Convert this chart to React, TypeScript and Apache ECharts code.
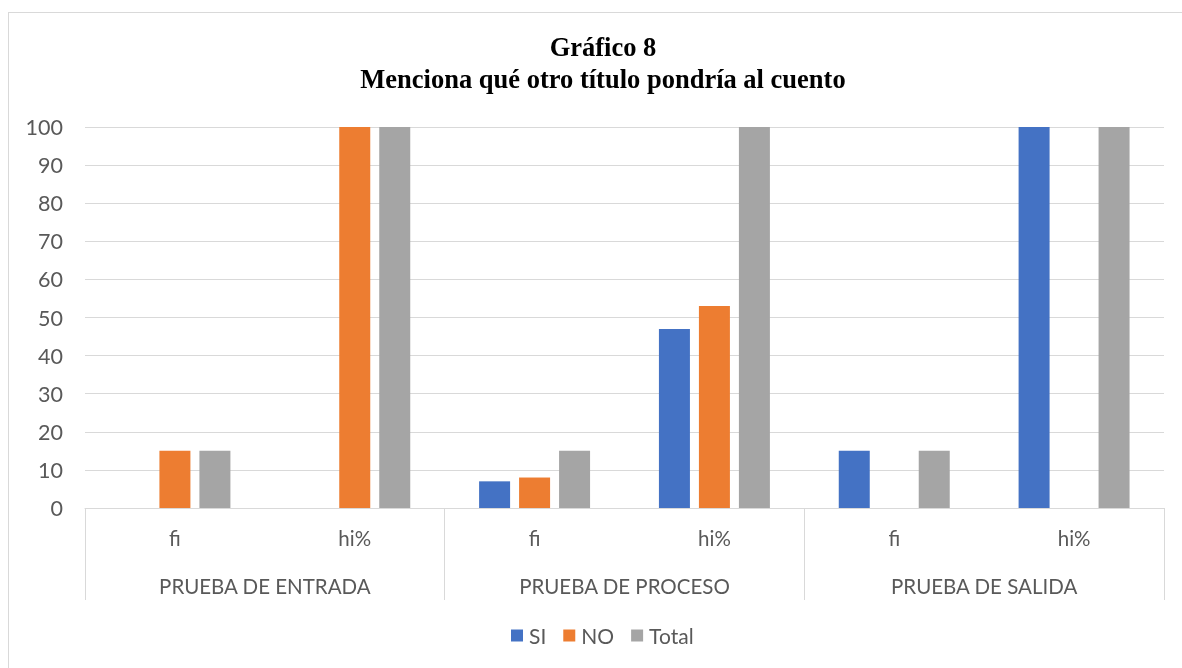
import React, { useEffect, useRef } from "react";
import * as echarts from "echarts";

const subCategories = ["fi", "hi%", "fi", "hi%", "fi", "hi%"];
const groups = ["PRUEBA DE ENTRADA", "PRUEBA DE PROCESO", "PRUEBA DE SALIDA"];
const siValues = [0, 0, 7, 47, 15, 100];
const noValues = [15, 100, 8, 53, 0, 0];
const totalValues = [15, 100, 15, 100, 15, 100];
const titleLine1 = "Gráfico 8";
const titleLine2 = "Menciona qué otro título pondría al cuento";

const FONT = "Lato, 'Open Sans', sans-serif";
const GRAY_TEXT = "#595959";
const LINE = "#d9d9d9";
const TITLE_FONT = "bold 26.5px 'Liberation Serif', 'Times New Roman', serif";

export default function App() {
  const ref = useRef<HTMLDivElement>(null);
  useEffect(() => {
    document.body.style.overflow = "hidden";
    const chart = echarts.init(ref.current!, undefined, { renderer: "svg" });
    chart.setOption({
      animation: false,
      backgroundColor: "transparent",
      graphic: [
        {
          type: "text",
          x: 603,
          y: 47,
          style: { text: titleLine1, font: TITLE_FONT, fill: "#000", textAlign: "center", textVerticalAlign: "middle" },
        },
        {
          type: "text",
          x: 603,
          y: 79,
          style: { text: titleLine2, font: TITLE_FONT, fill: "#000", textAlign: "center", textVerticalAlign: "middle" },
        },
      ],
      grid: { left: 85, right: 18, top: 127, bottom: 160, containLabel: false },
      legend: {
        top: 620,
        left: 506,
        itemWidth: 12,
        itemHeight: 12,
        itemGap: 17,
        icon: "rect",
        textStyle: { fontFamily: FONT, fontSize: 21, color: GRAY_TEXT, padding: [0, 0, 0, 1] },
        data: ["SI", "NO", "Total"],
      },
      xAxis: [
        {
          type: "category",
          data: subCategories,
          position: "bottom",
          axisLine: { show: true, lineStyle: { color: LINE, width: 1 } },
          axisTick: { show: false },
          axisLabel: { margin: 19, fontFamily: FONT, fontSize: 20.5, color: GRAY_TEXT, interval: 0 },
        },
        {
          type: "category",
          data: groups,
          position: "bottom",
          axisLine: { show: false },
          axisTick: { show: true, length: 92, lineStyle: { color: LINE, width: 1 } },
          axisLabel: { margin: 67, fontFamily: FONT, fontSize: 20.5, color: GRAY_TEXT, interval: 0 },
        },
      ],
      yAxis: {
        type: "value",
        min: 0,
        max: 100,
        interval: 10,
        axisLine: { show: false },
        axisTick: { show: false },
        splitLine: { lineStyle: { color: LINE, width: 1 } },
        axisLabel: { margin: 22, fontFamily: FONT, fontSize: 21.5, color: GRAY_TEXT },
      },
      series: [
        { name: "SI", type: "bar", data: siValues, barWidth: 31, barGap: "29%", itemStyle: { color: "#4472C4" } },
        { name: "NO", type: "bar", data: noValues, barWidth: 31, barGap: "29%", itemStyle: { color: "#ED7D31" } },
        { name: "Total", type: "bar", data: totalValues, barWidth: 31, barGap: "29%", itemStyle: { color: "#A5A5A5" } },
      ],
    });
    return () => chart.dispose();
  }, []);
  return (
    <div>
      <div
        style={{
          position: "fixed",
          left: 8,
          top: 12,
          width: 1200,
          height: 700,
          border: "1px solid #d9d9d9",
          boxSizing: "border-box",
        }}
      />
      <div ref={ref} style={{ position: "fixed", left: 0, top: 0, width: 1182, height: 668 }} />
    </div>
  );
}
